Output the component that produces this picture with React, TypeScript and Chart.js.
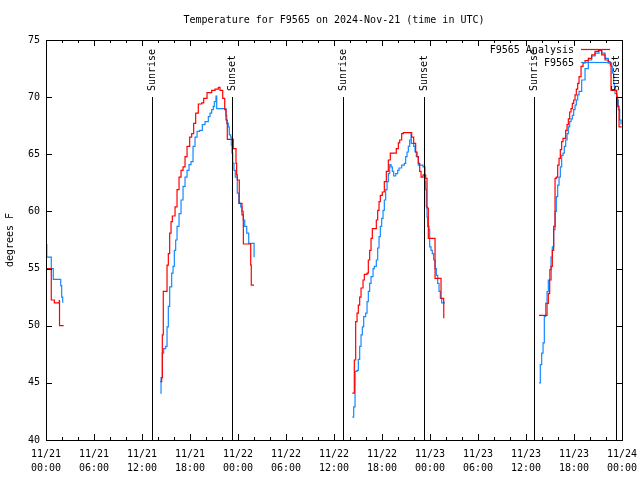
import React, { useEffect, useRef } from "react";
import { Chart, registerables } from "chart.js";

Chart.register(...registerables);

const FONT = "'DejaVu Sans Mono', 'Liberation Mono', monospace";

const titleText = "Temperature for F9565 on 2024-Nov-21 (time in UTC)";
const yAxisTitle = "degrees F";

// x ticks (hours since 11/21 00:00 UTC)
const tickDates = ["11/21", "11/21", "11/21", "11/21", "11/22", "11/22", "11/22", "11/22", "11/23", "11/23", "11/23", "11/23", "11/24"];
const tickTimes = ["00:00", "06:00", "12:00", "18:00", "00:00", "06:00", "12:00", "18:00", "00:00", "06:00", "12:00", "18:00", "00:00"];

// Sunrise / sunset (hours)
const sunHours = [13.2, 23.25, 37.17, 47.3, 61.04, 71.2];
const sunLabels = ["Sunrise", "Sunset", "Sunrise", "Sunset", "Sunrise", "Sunset"];
const sunLineTop = 70;

// F9565 Analysis (red) — [hour, degF]
const analysisNight1: number[][] = [
  [0.09, 55], [0.66, 52.25], [1.04, 52.0], [1.66, 52.2], [1.69, 50.0], [2.21, 50.0],
];
const analysisDay1: number[][] = [
  [14.29, 45.1], [14.46, 45.45], [14.54, 49.2], [14.66, 53.0], [15.13, 55.3], [15.29, 56.3],
  [15.46, 58.1], [15.63, 59.1], [15.79, 59.6], [16.13, 60.4], [16.38, 61.9], [16.63, 63.0],
  [16.88, 63.6], [17.13, 63.9], [17.38, 64.8], [17.63, 65.7], [17.96, 66.5], [18.21, 66.8],
  [18.46, 67.7], [18.71, 68.6], [19.04, 69.4], [19.46, 69.5], [19.71, 69.9], [20.13, 70.4],
  [20.71, 70.6], [21.13, 70.7], [21.54, 70.85], [21.75, 70.6], [22.09, 69.9], [22.34, 68.9],
  [22.5, 68.0], [22.66, 66.3], [23.41, 65.5], [23.75, 64.2], [23.83, 63.2], [23.91, 62.75],
  [24.16, 60.7], [24.5, 59.7], [24.66, 58.7], [24.67, 57.15], [25.59, 55.3], [25.66, 53.56],
  [26.0, 53.56],
];
const analysisDay2: number[][] = [
  [38.29, 44.1], [38.54, 47.0], [38.71, 50.35], [38.88, 51.1], [39.04, 51.8], [39.21, 52.5],
  [39.38, 53.3], [39.63, 54.0], [39.79, 54.5], [40.13, 54.6], [40.29, 55.75], [40.46, 56.6],
  [40.63, 57.65], [40.79, 58.5], [41.29, 59.25], [41.46, 60.1], [41.63, 60.85], [41.79, 61.4],
  [42.04, 61.7], [42.29, 62.6], [42.54, 63.5], [42.79, 64.5], [43.04, 65.1], [43.79, 65.5],
  [44.04, 66.0], [44.21, 66.25], [44.46, 66.8], [44.66, 66.9], [45.5, 66.9], [45.71, 66.5],
  [45.96, 65.95], [46.21, 65.2], [46.38, 64.8], [46.54, 64.2], [46.71, 63.5], [46.88, 63.0],
  [47.13, 63.2], [47.46, 62.9], [47.63, 60.3], [47.79, 57.65], [48.63, 54.15], [49.38, 52.4],
  [49.71, 52.1], [49.72, 50.65],
];
const analysisDay3: number[][] = [
  [61.63, 50.9], [62.46, 50.9], [62.63, 51.96], [62.79, 52.8], [62.96, 54.0], [63.13, 55.2],
  [63.29, 56.6], [63.46, 58.7], [63.63, 62.9], [63.79, 63.0], [63.96, 64.06], [64.13, 64.65],
  [64.29, 65.4], [64.46, 66.1], [64.63, 66.4], [64.96, 67.1], [65.13, 67.6], [65.29, 68.1],
  [65.46, 68.7], [65.63, 69.0], [65.79, 69.45], [65.96, 69.75], [66.13, 70.2], [66.29, 70.7],
  [66.46, 71.2], [66.63, 71.8], [66.88, 72.7], [67.13, 73.0], [67.38, 73.2], [67.79, 73.4],
  [68.21, 73.7], [68.63, 74.0], [69.04, 74.1], [69.46, 73.7], [69.88, 73.25], [70.29, 73.0],
  [70.54, 72.8], [70.63, 70.6], [71.33, 70.0], [71.46, 69.2], [71.63, 67.4], [71.96, 67.4],
];

// F9565 observations (blue) — [hour, degF]
const obsNight1: number[][] = [
  [0.0, 57.1], [0.1, 56.0], [0.66, 55.0], [0.91, 54.06], [1.84, 53.5], [1.96, 52.5], [2.09, 52.0],
];
const obsDay1: number[][] = [
  [14.29, 44.1], [14.38, 45.45], [14.54, 47.6], [14.71, 48.0], [14.96, 48.2], [15.13, 49.9],
  [15.29, 51.7], [15.46, 53.4], [15.71, 54.6], [15.88, 55.2], [16.04, 56.6], [16.21, 57.5],
  [16.38, 58.7], [16.63, 59.8], [16.88, 61.0], [17.13, 62.2], [17.38, 63.0], [17.63, 63.6],
  [17.88, 64.1], [18.13, 64.35], [18.38, 65.7], [18.63, 66.5], [18.88, 67.0], [19.21, 67.1],
  [19.54, 67.6], [19.88, 67.85], [20.29, 68.3], [20.5, 68.6], [20.71, 68.9], [20.91, 69.2],
  [21.04, 69.6], [21.25, 70.1], [21.34, 69.0], [22.25, 69.0], [22.5, 68.4], [22.59, 67.7],
  [22.79, 67.4], [22.91, 66.7], [23.09, 66.5], [23.16, 65.8], [23.25, 65.1], [23.34, 64.2],
  [23.5, 63.6], [23.66, 63.0], [23.91, 61.6], [24.09, 60.7], [24.34, 60.4], [24.5, 60.0],
  [24.66, 59.25], [24.84, 58.7], [25.09, 58.1], [25.34, 57.2], [26.0, 57.2], [26.01, 56.0],
];
const obsDay2: number[][] = [
  [38.29, 42.0], [38.46, 42.9], [38.63, 44.7], [38.64, 46.0], [38.88, 46.1], [39.04, 47.06],
  [39.21, 48.2], [39.38, 49.2], [39.54, 49.9], [39.71, 50.8], [39.96, 51.1], [40.13, 52.1],
  [40.29, 53.0], [40.46, 53.7], [40.63, 54.3], [40.88, 55.0], [41.04, 55.2], [41.29, 55.75],
  [41.46, 56.8], [41.63, 57.8], [41.79, 58.7], [41.96, 59.4], [42.13, 60.1], [42.29, 61.0],
  [42.46, 61.9], [42.63, 62.6], [42.79, 63.3], [42.96, 64.1], [43.13, 63.9], [43.29, 63.5],
  [43.46, 63.1], [43.71, 63.3], [43.96, 63.6], [44.13, 63.8], [44.46, 64.06], [44.79, 64.2],
  [44.96, 64.8], [45.13, 65.2], [45.29, 65.7], [45.46, 66.25], [45.63, 66.8], [45.66, 65.95],
  [45.96, 65.7], [46.13, 65.2], [46.29, 64.8], [46.54, 64.06], [47.13, 63.9], [47.38, 62.6],
  [47.46, 61.9], [47.54, 60.4], [47.63, 59.5], [47.71, 58.7], [47.88, 58.4], [47.96, 56.9],
  [48.13, 56.6], [48.29, 56.3], [48.46, 55.75], [48.63, 55.0], [48.79, 54.4], [48.96, 53.7],
  [49.13, 53.0], [49.29, 52.4], [49.46, 52.0], [49.88, 52.0],
];
const obsDay3: number[][] = [
  [61.63, 45.0], [61.79, 46.6], [61.96, 47.6], [62.13, 48.5], [62.29, 50.8], [62.46, 51.96],
  [62.63, 52.98], [62.79, 54.0], [62.96, 54.9], [63.13, 56.0], [63.29, 56.9], [63.46, 58.4],
  [63.63, 60.0], [63.79, 61.3], [63.96, 62.3], [64.13, 63.0], [64.29, 63.9], [64.46, 64.9],
  [64.63, 65.1], [64.79, 65.7], [64.96, 66.25], [65.13, 66.8], [65.29, 67.4], [65.46, 67.85],
  [65.63, 68.1], [65.79, 68.4], [65.96, 68.9], [66.13, 69.3], [66.29, 69.75], [66.46, 70.2],
  [66.63, 70.5], [66.96, 71.5], [67.38, 72.5], [67.79, 73.25], [68.21, 73.6], [68.63, 73.85],
  [69.13, 74.1], [69.46, 73.85], [69.88, 73.4], [70.29, 73.1], [70.54, 73.0], [70.71, 72.7],
  [70.79, 72.1], [70.96, 71.2], [71.04, 70.9], [71.13, 70.3], [71.38, 69.75], [71.54, 68.9],
  [71.71, 68.0], [71.88, 67.6],
];

const analysisSegments = [analysisNight1, analysisDay1, analysisDay2, analysisDay3];
const obsSegments = [obsNight1, obsDay1, obsDay2, obsDay3];

const RED = "#ff0000";
const BLUE = "#1489ff";

function joinSegments(segs: number[][][]) {
  const out: { x: number; y: number | null }[] = [];
  segs.forEach((seg, i) => {
    if (i > 0) out.push({ x: (seg[0][0] + segs[i - 1][segs[i - 1].length - 1][0]) / 2, y: null });
    seg.forEach(([x, y]) => out.push({ x, y }));
  });
  return out;
}

const framePlugin = {
  id: "frame",
  afterDatasetsDraw(chart: any) {
    const { ctx, chartArea: a, scales } = chart;
    const xs = scales.x;
    const ys = scales.y;
    ctx.save();
    ctx.font = `10px ${FONT}`;
    ctx.fillStyle = "#000";
    // title centred over plot area
    ctx.textAlign = "center";
    ctx.textBaseline = "middle";
    ctx.fillText(titleText, (a.left + a.right) / 2, 20);
    // sunrise / sunset lines + labels
    ctx.strokeStyle = "#000";
    ctx.lineWidth = 1;
    sunHours.forEach((h, i) => {
      const x = Math.round(xs.getPixelForValue(h)) + 0.5;
      const yTop = Math.round(ys.getPixelForValue(sunLineTop));
      ctx.beginPath();
      ctx.moveTo(x, a.bottom);
      ctx.lineTo(x, yTop);
      ctx.stroke();
      ctx.save();
      ctx.translate(x, yTop - 6);
      ctx.rotate(-Math.PI / 2);
      ctx.textAlign = "left";
      ctx.textBaseline = "middle";
      ctx.fillText(sunLabels[i], 0, 0);
      ctx.restore();
    });
    // border box
    ctx.strokeRect(Math.round(a.left) + 0.5, Math.round(a.top) + 0.5, Math.round(a.right - a.left), Math.round(a.bottom - a.top));
    // inward ticks x
    for (let h = xs.min; h <= xs.max + 1e-9; h += 2) {
      const x = Math.round(xs.getPixelForValue(h)) + 0.5;
      const len = h % 6 === 0 ? 6 : 3;
      ctx.beginPath();
      ctx.moveTo(x, a.bottom);
      ctx.lineTo(x, a.bottom - len);
      ctx.moveTo(x, a.top);
      ctx.lineTo(x, a.top + len);
      ctx.stroke();
    }
    for (let v = ys.min; v <= ys.max + 1e-9; v += 5) {
      const y = Math.round(ys.getPixelForValue(v)) + 0.5;
      ctx.beginPath();
      ctx.moveTo(a.left, y);
      ctx.lineTo(a.left + 6, y);
      ctx.moveTo(a.right, y);
      ctx.lineTo(a.right - 6, y);
      ctx.stroke();
    }
    // legend
    ctx.textAlign = "right";
    ctx.textBaseline = "middle";
    const legendColors = [RED, BLUE];
    chart.data.datasets.forEach((ds: any, i: number) => {
      const y = a.top + 10 + i * 13;
      ctx.fillStyle = "#000";
      ctx.fillText(ds.label, a.right - 48, y);
      ctx.strokeStyle = legendColors[i];
      ctx.lineWidth = 1.2;
      ctx.beginPath();
      ctx.moveTo(a.right - 41, Math.round(y) - 0.5);
      ctx.lineTo(a.right - 12, Math.round(y) - 0.5);
      ctx.stroke();
    });
    ctx.restore();
  },
};

export default function App() {
  const ref = useRef<HTMLCanvasElement>(null);
  useEffect(() => {
    if (!ref.current) return;
    const chart = new Chart(ref.current, {
      type: "line",
      data: {
        datasets: [
          {
            label: "F9565 Analysis",
            data: joinSegments(analysisSegments) as any,
            borderColor: RED,
            backgroundColor: RED,
            borderWidth: 1.2,
            pointRadius: 0,
            stepped: true,
            spanGaps: false,
          },
          {
            label: "F9565",
            data: joinSegments(obsSegments) as any,
            borderColor: BLUE,
            backgroundColor: BLUE,
            borderWidth: 1.2,
            pointRadius: 0,
            stepped: true,
            spanGaps: false,
          },
        ],
      },
      options: {
        animation: false,
        responsive: false,
        layout: { padding: { left: 0, right: 18, top: 40, bottom: 0 } },
        plugins: {
          legend: { display: false },
          tooltip: { enabled: false },
          title: { display: false },
        },
        scales: {
          x: {
            type: "linear",
            min: 0,
            max: 72,
            grid: { display: false, drawTicks: false },
            border: { display: false },
            ticks: {
              stepSize: 6,
              autoSkip: false,
              maxRotation: 0,
              padding: 7,
              color: "#000",
              font: { family: FONT, size: 10, lineHeight: 1.4 },
              callback: (v: any) => {
                const i = Math.round(Number(v) / 6);
                return [tickDates[i], tickTimes[i]];
              },
            },
            afterFit: (s: any) => {
              s.height = 40;
              s.paddingLeft = 0;
              s.paddingRight = 0;
            },
          },
          y: {
            min: 40,
            max: 75,
            grid: { display: false, drawTicks: false },
            border: { display: false },
            ticks: {
              stepSize: 5,
              padding: 6,
              color: "#000",
              font: { family: FONT, size: 10 },
            },
            title: {
              display: true,
              text: yAxisTitle,
              color: "#000",
              font: { family: FONT, size: 10 },
              padding: { top: 4, bottom: 4 },
            },
            afterFit: (s: any) => {
              s.width = 46;
              s.paddingTop = 0;
              s.paddingBottom = 0;
            },
          },
        },
      },
      plugins: [framePlugin],
    });
    return () => chart.destroy();
  }, []);
  return (
    <div style={{ position: "absolute", left: 0, top: 0, width: 640, height: 480, background: "#fff" }}>
      <canvas ref={ref} width={640} height={480} style={{ display: "block" }} />
    </div>
  );
}
